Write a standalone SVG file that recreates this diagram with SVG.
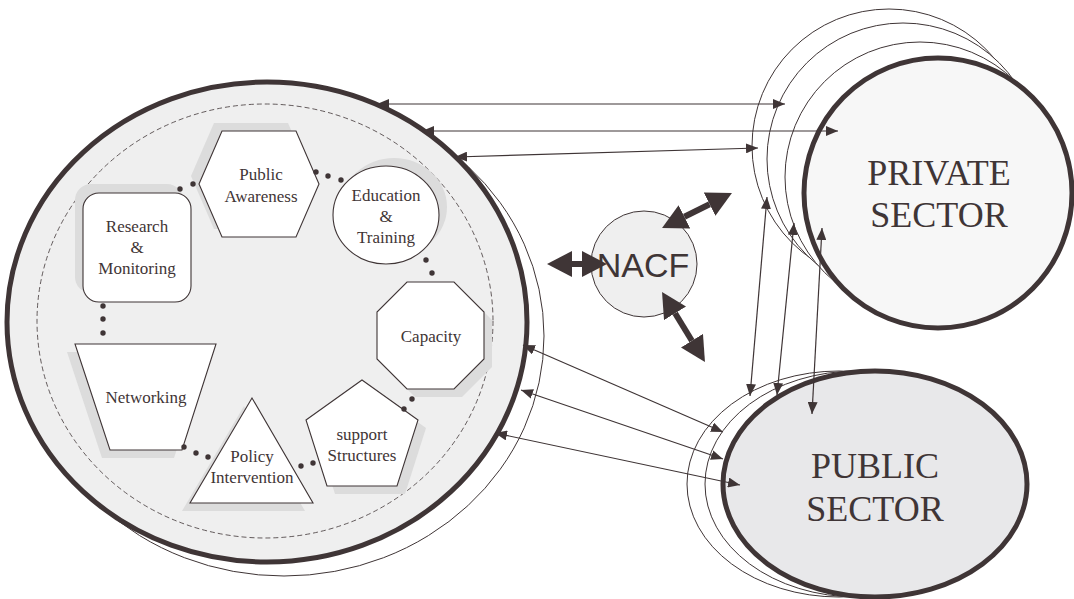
<svg xmlns="http://www.w3.org/2000/svg" width="1074" height="599" viewBox="0 0 1074 599">
<defs>
<style>
.thin{fill:none;stroke:#3f3536;stroke-width:1}
.thinw{fill:#ffffff;stroke:#3f3536;stroke-width:1}
.shape{fill:#ffffff;stroke:#3f3536;stroke-width:1.1}
.shadow{fill:#dcdcdc;stroke:none}
.dot{fill:#3f3536}
.lbl{font-family:"Liberation Serif","Times New Roman",serif;font-size:17px;fill:#3f3536;text-anchor:middle}
.big{font-family:"Liberation Serif","Times New Roman",serif;font-size:36px;fill:#3f3536;text-anchor:middle}
.conn{fill:none;stroke:#3f3536;stroke-width:1.2}
.fat{fill:none;stroke:#3f3536;stroke-width:6}
</style>
<marker id="ah" viewBox="0 0 12 10" refX="12" refY="5" markerWidth="12" markerHeight="10" markerUnits="userSpaceOnUse" orient="auto-start-reverse">
<path d="M0,0 L12,5 L0,10 z" fill="#3f3536"/>
</marker>
<marker id="bh" viewBox="0 0 25 26" refX="0" refY="13" markerWidth="25" markerHeight="26" markerUnits="userSpaceOnUse" orient="auto-start-reverse">
<path d="M0,0 L25,13 L0,26 z" fill="#3f3536"/>
</marker>
</defs>

<g id="network-cluster">
<ellipse cx="284" cy="336" rx="260" ry="240" class="thinw"/>
<ellipse cx="267" cy="322" rx="260" ry="240" fill="#efefef" stroke="#3f3536" stroke-width="5"/>
<ellipse cx="265" cy="321" rx="228" ry="217" fill="none" stroke="#3f3536" stroke-width="0.8" stroke-dasharray="5,3"/>
</g>

<g id="research-monitoring">
<rect x="75" y="184" width="108" height="109" rx="16" class="shadow"/>
<rect x="83" y="193" width="108" height="109" rx="16" class="shape"/>
<text class="lbl" x="137" y="232">Research</text>
<text class="lbl" x="137" y="253">&amp;</text>
<text class="lbl" x="137" y="274">Monitoring</text>
</g>

<g id="public-awareness">
<polygon class="shadow" points="191,176 214,123 288,123 311,176 288,229 214,229"/>
<polygon class="shape" points="199,184 222,131 296,131 319,184 296,237 222,237"/>
<text class="lbl" x="261" y="180">Public</text>
<text class="lbl" x="261" y="202">Awareness</text>
</g>

<g id="education-training">
<ellipse class="shadow" cx="394" cy="207" rx="53" ry="49"/>
<ellipse class="shape" cx="386" cy="215" rx="53" ry="49"/>
<text class="lbl" x="386" y="201">Education</text>
<text class="lbl" x="386" y="222">&amp;</text>
<text class="lbl" x="386" y="243">Training</text>
</g>

<g id="capacity">
<polygon class="shadow" points="415,290 462,290 492,320 492,367 462,397 415,397 385,367 385,320"/>
<polygon class="shape" points="407,282 454,282 484,312 484,359 454,389 407,389 377,359 377,312"/>
<text class="lbl" x="431" y="342">Capacity</text>
</g>

<g id="support-structures">
<polygon class="shadow" points="370,388 426,428 405,494 335,494 314,428"/>
<polygon class="shape" points="362,380 418,420 397,486 327,486 306,420"/>
<text class="lbl" x="362" y="440">support</text>
<text class="lbl" x="362" y="461">Structures</text>
</g>

<g id="policy-intervention">
<polygon class="shadow" points="244,406 182,511 305,511"/>
<polygon class="shape" points="252,398 190,503 313,503"/>
<text class="lbl" x="252" y="462">Policy</text>
<text class="lbl" x="252" y="483">Intervention</text>
</g>

<g id="networking">
<polygon class="shadow" points="67,352 208,352 174,458 102,458"/>
<polygon class="shape" points="75,344 216,344 182,450 110,450"/>
<text class="lbl" x="146" y="403">Networking</text>
</g>

<g id="dots">
<circle class="dot" cx="180" cy="189" r="2.7"/>
<circle class="dot" cx="193" cy="184" r="2.7"/>
<circle class="dot" cx="316" cy="172" r="2.7"/>
<circle class="dot" cx="328" cy="176" r="2.7"/>
<circle class="dot" cx="341" cy="180" r="2.7"/>
<circle class="dot" cx="426" cy="260" r="2.7"/>
<circle class="dot" cx="432" cy="273" r="2.7"/>
<circle class="dot" cx="412" cy="399" r="2.7"/>
<circle class="dot" cx="404" cy="409" r="2.7"/>
<circle class="dot" cx="301" cy="466" r="2.7"/>
<circle class="dot" cx="313" cy="463" r="2.7"/>
<circle class="dot" cx="184" cy="447" r="2.7"/>
<circle class="dot" cx="196" cy="453" r="2.7"/>
<circle class="dot" cx="208" cy="457" r="2.7"/>
<circle class="dot" cx="103" cy="306" r="2.7"/>
<circle class="dot" cx="103" cy="319" r="2.7"/>
<circle class="dot" cx="103" cy="333" r="2.7"/>
</g>

<g id="nacf">
<circle cx="644" cy="264" r="53" fill="#efefef" stroke="#3f3536" stroke-width="1"/>
<text x="643" y="277" font-family="Liberation Sans, Arial, sans-serif" font-size="34" fill="#3f3536" text-anchor="middle">NACF</text>
</g>

<g id="private-sector">
<circle cx="889" cy="146" r="137" class="thinw"/>
<circle cx="903" cy="159" r="136" class="thinw"/>
<circle cx="920" cy="177" r="135" class="thinw"/>
<ellipse cx="938" cy="193" rx="134" ry="135" fill="#f7f7f7" stroke="#3f3536" stroke-width="5"/>
<text class="big" x="939" y="185">PRIVATE</text>
<text class="big" x="939" y="227">SECTOR</text>
</g>

<g id="public-sector">
<ellipse cx="839" cy="484" rx="152" ry="113" class="thinw"/>
<ellipse cx="857" cy="484" rx="152" ry="113" class="thinw"/>
<ellipse cx="875" cy="484" rx="152" ry="113" fill="#e8e8ea" stroke="#3f3536" stroke-width="5"/>
<text class="big" x="875" y="478">PUBLIC</text>
<text class="big" x="875" y="521">SECTOR</text>
</g>

<g id="connectors">
<line class="conn" x1="377" y1="104" x2="785" y2="104" marker-start="url(#ah)" marker-end="url(#ah)"/>
<line class="conn" x1="422" y1="131" x2="838" y2="131" marker-start="url(#ah)" marker-end="url(#ah)"/>
<line class="conn" x1="455" y1="157" x2="758" y2="148" marker-start="url(#ah)" marker-end="url(#ah)"/>
<line class="conn" x1="767" y1="197" x2="750" y2="396" marker-start="url(#ah)" marker-end="url(#ah)"/>
<line class="conn" x1="794" y1="223" x2="777" y2="395" marker-start="url(#ah)" marker-end="url(#ah)"/>
<line class="conn" x1="822" y1="228" x2="812" y2="414" marker-start="url(#ah)" marker-end="url(#ah)"/>
<line class="conn" x1="523" y1="345" x2="723" y2="432" marker-start="url(#ah)" marker-end="url(#ah)"/>
<line class="conn" x1="521" y1="390" x2="723" y2="459" marker-start="url(#ah)" marker-end="url(#ah)"/>
<line class="conn" x1="495" y1="433" x2="740" y2="485" marker-start="url(#ah)" marker-end="url(#ah)"/>
<line class="fat" x1="572" y1="264" x2="582" y2="264" marker-start="url(#bh)" marker-end="url(#bh)"/>
<line class="fat" x1="684.4" y1="216.8" x2="709.6" y2="204.2" marker-start="url(#bh)" marker-end="url(#bh)"/>
<line class="fat" x1="675.1" y1="313.3" x2="691.9" y2="340.7" marker-start="url(#bh)" marker-end="url(#bh)"/>
</g>
</svg>
